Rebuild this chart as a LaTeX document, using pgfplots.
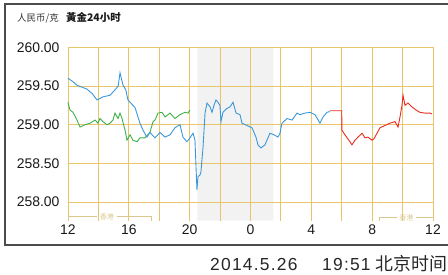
\documentclass[border=0pt]{standalone}
\usepackage{pgfplots}
\pgfplotsset{compat=1.18}
\usepackage{fontspec}
\setmainfont{Liberation Sans}
\newfontfamily\cjk{Noto Sans CJK SC}
\definecolor{gridc}{HTML}{E8C46A}
\definecolor{blueL}{HTML}{3A98DA}
\definecolor{greenL}{HTML}{3DB149}
\definecolor{redL}{HTML}{EC2A1F}
\definecolor{shade}{HTML}{F2F2F2}
\definecolor{hk}{HTML}{D9C78E}
\pgfplotsset{base/.style={
  scale only axis,
  width=365bp, height=173.4bp,
  at={(68bp,-220.7bp)}, anchor=south west,
  xmin=12, xmax=36, ymin=257.76, ymax=260,
  axis line style={draw=none},
}}
\begin{document}
\begin{tikzpicture}
\useasboundingbox (0,0) rectangle (448bp,-275bp);
\draw[line width=1.3pt, black!70] (5bp,-4bp) rectangle (452bp,-245bp);
\node[anchor=base west, inner sep=0pt, text=black!80] at (17bp,-21bp) {\cjk\fontsize{9.5}{10}\selectfont 人民币/克};
\node[anchor=base west, inner sep=0pt, text=black!90] at (66bp,-21bp) {\cjk\bfseries\fontsize{10.5}{11}\selectfont 黃金24小时};
\begin{axis}[base, ticks=none]
\addplot[fill=shade, draw=none] coordinates {(20.5,257.76) (20.5,260) (25.5,260) (25.5,257.76) (20.5,257.76)};
\end{axis}
\begin{axis}[
  base,
  xtick={12,16,20,24,28,32,36},
  xticklabels={12,16,20,0,4,8,12},
  minor xtick={14,18,22,26,30,34},
  ytick={258,258.5,259,259.5,260},
  yticklabels={258.00,258.50,259.00,259.50,260.00},
  grid=both,
  major grid style={gridc, line width=0.9pt},
  minor grid style={gridc, line width=0.9pt},
  major tick length=0pt, minor tick length=0pt,
  tick style={draw=none},
  ticklabel style={font=\fontsize{14}{15}\selectfont, text=black!90},
  xticklabel style={yshift=-1bp},
  yticklabel style={xshift=-5bp},
  clip=false,
]
% Hong Kong brackets
\draw[hk, line width=0.8pt] (axis cs:12,257.76) -- (axis cs:12,257.82) -- (axis cs:13.9,257.82);
\draw[hk, line width=0.8pt] (axis cs:15.2,257.82) -- (axis cs:17.5,257.82) -- (axis cs:17.5,257.76);
\node[text=hk, inner sep=0pt, font=\cjk\fontsize{7}{7}\selectfont] at (axis cs:14.55,257.815) {香港};
\draw[hk, line width=0.8pt] (axis cs:32.5,257.76) -- (axis cs:32.5,257.80) -- (axis cs:33.6,257.80);
\draw[hk, line width=0.8pt] (axis cs:34.9,257.80) -- (axis cs:36,257.80) -- (axis cs:36,257.76);
\node[text=hk, inner sep=0pt, font=\cjk\fontsize{7}{7}\selectfont] at (axis cs:34.25,257.795) {香港};
% green
\addplot[greenL, line width=0.9pt] coordinates {
(12.00,259.29) (12.13,259.19) (12.33,259.16) (12.59,259.06) (12.79,258.97) (13.12,259.00) (13.45,259.02) (13.78,259.06) (13.97,259.02) (14.10,259.08) (14.30,259.04) (14.56,259.00) (14.76,259.02) (14.96,259.06) (15.09,259.15) (15.29,259.08) (15.42,259.15) (15.55,259.08) (15.75,258.93) (15.88,258.80) (16.08,258.87) (16.27,258.80) (16.54,258.78) (16.73,258.83) (17.06,258.83) (17.39,258.90) (17.59,259.04) (17.72,259.06) (17.92,259.15) (18.18,259.16) (18.38,259.10) (18.71,259.15) (19.03,259.08) (19.36,259.13) (19.69,259.16) (19.89,259.15) (20.02,259.19)
};
% blue
\addplot[blueL, line width=0.9pt] coordinates {
(12.00,259.60) (12.30,259.56) (12.59,259.51) (13.25,259.46) (13.60,259.40) (13.91,259.32) (14.30,259.36) (14.76,259.38) (15.09,259.45) (15.30,259.50) (15.42,259.67) (15.62,259.51) (15.80,259.45) (15.94,259.32) (16.08,259.29) (16.41,259.22) (16.73,259.02) (16.93,258.93) (17.19,258.84) (17.39,258.90) (17.72,258.83) (18.05,258.90) (18.38,258.84) (18.71,258.87) (19.03,258.96) (19.36,259.00) (19.56,258.84) (19.82,258.78) (20.02,258.83) (20.22,258.89) (20.35,258.80) (20.42,258.44) (20.48,258.16) (20.55,258.33) (20.68,258.35) (20.74,258.39) (20.88,258.71) (21.01,259.15) (21.14,259.28) (21.34,259.23) (21.47,259.16) (21.60,259.25) (21.73,259.32) (21.86,259.29) (21.99,259.25) (22.06,259.04) (22.19,259.16) (22.45,259.21) (22.65,259.23) (22.85,259.29) (23.05,259.15) (23.31,259.13) (23.44,259.02) (23.77,258.99) (24.10,258.96) (24.36,258.84) (24.49,258.74) (24.69,258.70) (24.95,258.74) (25.28,258.89) (25.54,258.87) (25.81,258.84) (25.94,258.89) (26.07,259.02) (26.40,259.08) (26.73,259.06) (27.06,259.15) (27.25,259.13) (27.58,259.15) (27.91,259.16) (28.24,259.13) (28.57,259.02) (28.77,259.10) (29.03,259.16) (29.23,259.17)
};
% red
\addplot[redL, line width=0.9pt] coordinates {
(29.23,259.18) (30.00,259.18) (30.01,258.93) (30.21,258.87) (30.54,258.78) (30.67,258.74) (30.87,258.80) (31.07,258.84) (31.33,258.89) (31.53,258.83) (31.72,258.84) (31.99,258.80) (32.12,258.82) (32.32,258.89) (32.51,258.96) (32.84,258.99) (33.17,259.02) (33.50,259.04) (33.70,258.97) (33.83,259.10) (33.96,259.25) (34.03,259.38) (34.16,259.25) (34.35,259.28) (34.62,259.23) (34.88,259.19) (35.14,259.16) (35.47,259.15) (35.80,259.15) (35.93,259.14)
};
\end{axis}
\node[anchor=base west, inner sep=0pt, text=black!85] at (210bp,-270bp) {\fontsize{17.5}{18}\selectfont\addfontfeatures{LetterSpace=7}2014.5.26};
\node[anchor=base west, inner sep=0pt, text=black!85] at (322bp,-270bp) {\fontsize{17.5}{18}\selectfont\addfontfeatures{LetterSpace=7}19:51};
\node[anchor=base west, inner sep=0pt, text=black!85] at (375bp,-270bp) {\cjk\fontsize{18}{19}\selectfont 北京时间};
\end{tikzpicture}
\end{document}
